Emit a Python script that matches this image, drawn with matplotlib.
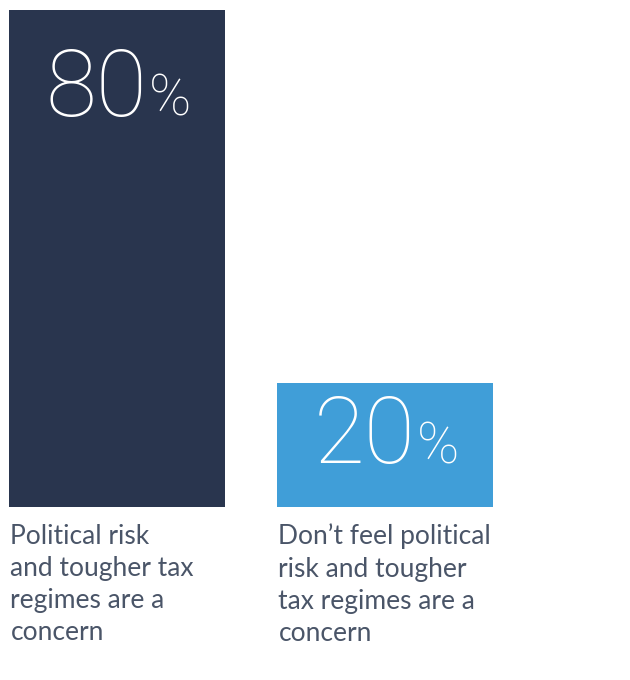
import matplotlib
matplotlib.use("Agg")
import matplotlib.pyplot as plt

# data
categories = [
    "Political risk\nand tougher tax\nregimes are a\nconcern",
    "Don\u2019t feel political\nrisk and tougher\ntax regimes are a\nconcern",
]
values = [80, 20]
bar_colors = ["#29354E", "#409ED8"]
number_drop = [76, 58]   # points from bar top to number baseline

plt.rcParams["font.family"] = ["Lato", "DejaVu Sans"]

fig = plt.figure(figsize=(6.3, 6.8), dpi=100)
ax = fig.add_axes([0, 173 / 680, 1, 497 / 680])

width = 216 / 268
xs = list(range(len(values)))
ax.bar(xs, values, width=width, color=bar_colors)
ax.set_xlim(-117 / 268, 513 / 268)
ax.set_ylim(0, 80)
ax.axis("off")

fig.canvas.draw()
pt = fig.dpi / 72
for x, v, drop, label in zip(xs, values, number_drop, categories):
    num = ax.annotate(str(v), xy=(x, v), xytext=(-15, -drop),
                      textcoords="offset points", ha="center", va="baseline",
                      fontsize=67, fontfamily=["Roboto", "DejaVu Sans"],
                      fontweight="light", color="white")
    fig.canvas.draw()
    bb = num.get_window_extent()
    base = ax.transData.transform((x, v))[1] - drop * pt
    fig.text((bb.x1 + 2) / fig.bbox.width, base / fig.bbox.height, "%",
             ha="left", va="baseline", fontsize=41,
             fontfamily=["Roboto", "DejaVu Sans"], fontweight="light",
             color="white")
    ax.annotate(label, xy=(x - width / 2, 0), xytext=(1, -12),
                textcoords="offset points", ha="left", va="top",
                fontsize=19, color="#4A5568", linespacing=1.36,
                annotation_clip=False)

fig.savefig("out.png", dpi=100)
